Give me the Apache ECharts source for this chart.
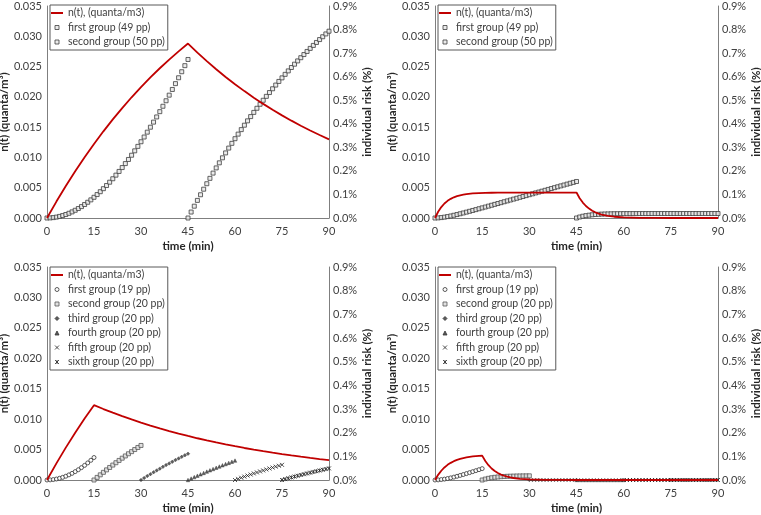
<!DOCTYPE html>
<html><head><meta charset="utf-8">
<script src="https://cdn.jsdelivr.net/npm/echarts@6/dist/echarts.min.js"></script>
<style>html,body{margin:0;padding:0;background:#fff}#c{width:761px;height:515px}</style>
</head><body><div id="c"></div>
<script>
// ---------- tick labels / names ----------
const timeTicks = [0, 15, 30, 45, 60, 75, 90];
const RED = 'n(t), (quanta/m3)';
const namesA = ['first group (49 pp)', 'second group (50 pp)'];
const namesB = ['first group (19 pp)', 'second group (20 pp)', 'third group (20 pp)', 'fourth group (20 pp)', 'fifth group (20 pp)', 'sixth group (20 pp)'];

// ---------- panel 1 (top left) ----------
const p1RedT = [0,3,6,9,12,15,18,21,24,27,30,33,36,39,42,45,48,51,54,57,60,63,66,69,72,75,78,81,84,87,90];
const p1Red = [0,0.00271,0.00528,0.00772,0.01004,0.01223,0.01431,0.01628,0.01815,0.01993,0.02161,0.02320,0.02472,0.02615,0.02751,0.02880,0.02731,0.02590,0.02456,0.02329,0.02209,0.02095,0.01986,0.01884,0.01786,0.01694,0.01607,0.01523,0.01445,0.01370,0.01299];
const p1FirstStart = 0;
const p1First = [0,0.0004,0.0017,0.0038,0.0067,0.0103,0.0148,0.0200,0.0260,0.0328,0.0402,0.0484,0.0572,0.0668,0.0770,0.0879,0.0995,0.1117,0.1245,0.1379,0.1520,0.1666,0.1819,0.1977,0.2141,0.2310,0.2485,0.2665,0.2851,0.3041,0.3237,0.3438,0.3644,0.3854,0.4070,0.4290,0.4514,0.4744,0.4977,0.5215,0.5457,0.5704,0.5954,0.6209,0.6467,0.6730];
const p1SecondStart = 45;
const p1Second = [0,0.0253,0.0502,0.0747,0.0987,0.1223,0.1455,0.1683,0.1906,0.2126,0.2342,0.2555,0.2763,0.2968,0.3169,0.3367,0.3561,0.3752,0.3940,0.4124,0.4305,0.4483,0.4658,0.4829,0.4998,0.5164,0.5326,0.5486,0.5643,0.5798,0.5949,0.6098,0.6245,0.6389,0.6530,0.6669,0.6805,0.6939,0.7071,0.7200,0.7327,0.7452,0.7575,0.7695,0.7814,0.7930];

// ---------- panel 2 (top right) ----------
const p2RedT = [0,1,2,3,4,5,6,7,8,9,10,12,14,16,18,20,25,30,35,40,45,46,47,48,49,50,51,52,53,55,57,60,65,70,75,80,90];
const p2Red = [0,0.00103,0.00180,0.00239,0.00283,0.00316,0.00342,0.00361,0.00375,0.00386,0.00395,0.00405,0.00412,0.00415,0.00417,0.00419,0.00420,0.00420,0.00420,0.00420,0.00420,0.00327,0.00255,0.00198,0.00155,0.00120,0.00094,0.00073,0.00057,0.00035,0.00021,0.00010,0.00003,0.00001,0,0,0];
const p2FirstStart = 0;
const p2First = [0,0.0005,0.0018,0.0036,0.0060,0.0086,0.0116,0.0147,0.0180,0.0214,0.0249,0.0284,0.0320,0.0356,0.0393,0.0430,0.0466,0.0504,0.0541,0.0578,0.0615,0.0652,0.0690,0.0727,0.0764,0.0802,0.0839,0.0877,0.0914,0.0951,0.0989,0.1026,0.1064,0.1101,0.1138,0.1176,0.1213,0.1251,0.1288,0.1325,0.1363,0.1400,0.1438,0.1475,0.1512,0.1550];
const p2SecondStart = 45;
const p2Second = [0,0.0042,0.0075,0.0100,0.0120,0.0136,0.0148,0.0157,0.0164,0.0170,0.0174,0.0178,0.0181,0.0183,0.0184,0.0186,0.0187,0.0187,0.0188,0.0188,0.0189,0.0189,0.0189,0.0189,0.0190,0.0190,0.0190,0.0190,0.0190,0.0190,0.0190,0.0190,0.0190,0.0190,0.0190,0.0190,0.0190,0.0190,0.0190,0.0190,0.0190,0.0190,0.0190,0.0190,0.0190,0.0190];

// ---------- panel 3 (bottom left) ----------
const p3RedT = [0,3,6,9,12,15,18,21,24,27,30,33,36,39,42,45,48,51,54,57,60,63,66,69,72,75,78,81,84,87,90];
const p3Red = [0,0.00273,0.00532,0.00777,0.01009,0.01230,0.01166,0.01106,0.01049,0.00995,0.00943,0.00895,0.00848,0.00805,0.00763,0.00724,0.00686,0.00651,0.00617,0.00585,0.00555,0.00526,0.00499,0.00473,0.00449,0.00426,0.00404,0.00383,0.00363,0.00344,0.00326];
const p3Starts = [0, 15, 30, 45, 60, 75];
const p3G1 = [0,0.0005,0.0018,0.0041,0.0072,0.0112,0.0160,0.0217,0.0281,0.0354,0.0434,0.0523,0.0618,0.0722,0.0832,0.0950];
const p3G2 = [0,0.0110,0.0218,0.0324,0.0428,0.0530,0.0631,0.0730,0.0827,0.0922,0.1016,0.1108,0.1198,0.1287,0.1374,0.1460];
const p3G3 = [0,0.0084,0.0166,0.0246,0.0325,0.0403,0.0480,0.0555,0.0629,0.0701,0.0772,0.0842,0.0911,0.0978,0.1045,0.1110];
const p3G4 = [0,0.0062,0.0122,0.0182,0.0240,0.0298,0.0354,0.0410,0.0464,0.0518,0.0570,0.0622,0.0673,0.0723,0.0772,0.0820];
const p3G5 = [0,0.0048,0.0095,0.0142,0.0188,0.0232,0.0277,0.0320,0.0362,0.0404,0.0445,0.0486,0.0525,0.0564,0.0602,0.0640];
const p3G6 = [0,0.0037,0.0073,0.0109,0.0144,0.0178,0.0212,0.0245,0.0277,0.0309,0.0341,0.0372,0.0402,0.0432,0.0461,0.0490];

// ---------- panel 4 (bottom right) ----------
const p4RedT = [0,1,2,3,4,5,6,7,8,9,10,11,12,13,14,15,16,17,18,19,20,21,22,23,24,25,27,30,35,40,45,60,90];
const p4Red = [0,0.00085,0.00152,0.00206,0.00249,0.00282,0.00309,0.00331,0.00348,0.00361,0.00372,0.00380,0.00387,0.00392,0.00397,0.00400,0.00312,0.00243,0.00189,0.00147,0.00115,0.00089,0.00070,0.00054,0.00042,0.00033,0.00020,0.00009,0.00003,0.00001,0,0,0];
const p4Starts = [0, 15, 30, 45, 60, 75];
const p4G1 = [0,0.0005,0.0018,0.0037,0.0062,0.0090,0.0122,0.0157,0.0193,0.0231,0.0271,0.0311,0.0353,0.0395,0.0437,0.0480];
const p4G2 = [0,0.0040,0.0071,0.0095,0.0114,0.0128,0.0140,0.0149,0.0156,0.0161,0.0165,0.0169,0.0171,0.0173,0.0175,0.0176];
const p4G3 = [0,0.0001,0.0002,0.0002,0.0003,0.0003,0.0003,0.0004,0.0004,0.0004,0.0004,0.0004,0.0004,0.0004,0.0004,0.0004];
const p4G4 = [0,0,0,0,0,0,0,0,0,0,0,0,0,0,0,0];
const p4G5 = [0,0,0,0,0,0,0,0,0,0,0,0,0,0,0,0];
const p4G6 = [0,0,0,0,0,0,0,0,0,0,0,0,0,0,0,0];

// ---------- build ----------
const FONT = 'Lato';
const TXT = '#404040';
const AXC = '#7f7f7f';
const REDC = '#c00000';
const pairs = (t, v) => v.map((y, i) => [t[i], y]);
const fromStart = (s, v) => v.map((y, i) => [s + i, y]);

const grids = [
  {left: 47, top: 6, width: 282, height: 212},
  {left: 435, top: 6, width: 283, height: 212},
  {left: 47, top: 267, width: 282, height: 213},
  {left: 435, top: 267, width: 283, height: 213}
];
const leftGap = [26, 30, 26, 30];
const rightGap = [27, 19, 27, 19];
const nameStyle = {fontFamily: FONT, fontWeight: 'bold', fontSize: 11.5, color: '#262626'};
const xAxes = [], yAxes = [], series = [];
grids.forEach((g, i) => {
  xAxes.push({type: 'value', gridIndex: i, min: timeTicks[0], max: timeTicks[timeTicks.length - 1], interval: 15,
    name: 'time (min)', nameLocation: 'middle', nameGap: 22, nameTextStyle: nameStyle,
    axisLine: {show: true, onZero: false, lineStyle: {color: AXC, width: 1}},
    axisTick: {show: false}, splitLine: {show: false},
    axisLabel: {fontFamily: FONT, fontSize: 11, color: TXT, margin: 8}});
  yAxes.push({type: 'value', gridIndex: i, position: 'left', min: 0, max: 0.035, interval: 0.005,
    name: 'n(t) (quanta/m³)', nameLocation: 'middle', nameGap: leftGap[i], nameTextStyle: nameStyle,
    axisLine: {show: true, onZero: false, lineStyle: {color: AXC, width: 1}},
    axisTick: {show: false}, splitLine: {show: false},
    axisLabel: {fontFamily: FONT, fontSize: 11, color: TXT, margin: 5, formatter: v => v.toFixed(3)}});
  yAxes.push({type: 'value', gridIndex: i, position: 'right', min: 0, max: 0.9, interval: 0.1,
    name: 'individual risk (%)', nameLocation: 'middle', nameGap: rightGap[i], nameTextStyle: nameStyle,
    axisLine: {show: true, onZero: false, lineStyle: {color: AXC, width: 1}},
    axisTick: {show: false}, splitLine: {show: false},
    axisLabel: {fontFamily: FONT, fontSize: 11, color: TXT, margin: 4, formatter: v => v.toFixed(1) + '%'}});
});

function redSeries(i, t, v) {
  return {type: 'line', name: RED, xAxisIndex: i, yAxisIndex: 2 * i, data: pairs(t, v),
    symbol: 'none', showSymbol: false, lineStyle: {color: REDC, width: 1.8}, itemStyle: {color: REDC}, z: 3};
}
const X_PATH = 'path://M0,0L8,8M8,0L0,8';
const STAR_PATH = 'path://M0,0L8,8M8,0L0,8M4,0L4,8';
const SQ_ICON = 'path://M0,0h8v8h-8z';
const DIA_ICON = 'path://M4,0L8,4L4,8L0,4z';
const TRI_ICON = 'path://M4,0L8,8L0,8z';
const LINE_ICON = 'path://M0,0h12v2h-12z';

const styleA = {symbol: 'rect', itemStyle: {color: '#e6e6e6', borderColor: '#3f3f3f', borderWidth: 1}};
const stylesB = [
  {symbol: 'circle', icon: 'circle', size: 4, itemStyle: {color: '#ffffff', borderColor: '#333333', borderWidth: 1}},
  {symbol: 'rect', icon: SQ_ICON, size: 4, itemStyle: {color: '#d9d9d9', borderColor: '#595959', borderWidth: 1}},
  {symbol: 'diamond', icon: DIA_ICON, size: 3.5, itemStyle: {color: '#333333', borderColor: '#333333', borderWidth: 0.5}},
  {symbol: 'triangle', icon: TRI_ICON, size: 3.5, itemStyle: {color: '#333333', borderColor: '#333333', borderWidth: 0.5}},
  {symbol: X_PATH, icon: X_PATH, size: 4, itemStyle: {color: 'none', borderColor: '#262626', borderWidth: 1}},
  {symbol: STAR_PATH, icon: STAR_PATH, size: 4, itemStyle: {color: 'none', borderColor: '#262626', borderWidth: 1}}
];
function scat(i, name, data, st, size) {
  return {type: 'scatter', name, xAxisIndex: i, yAxisIndex: 2 * i + 1, data,
    symbol: st.symbol, symbolSize: size, itemStyle: st.itemStyle, z: 2};
}

series.push(redSeries(0, p1RedT, p1Red));
series.push(scat(0, namesA[0], fromStart(p1FirstStart, p1First), styleA, 4));
series.push(scat(0, namesA[1], fromStart(p1SecondStart, p1Second), styleA, 4));
series.push(redSeries(1, p2RedT, p2Red));
series.push(scat(1, namesA[0], fromStart(p2FirstStart, p2First), styleA, 4));
series.push(scat(1, namesA[1], fromStart(p2SecondStart, p2Second), styleA, 4));
series.push(redSeries(2, p3RedT, p3Red));
[p3G1, p3G2, p3G3, p3G4, p3G5, p3G6].forEach((g, k) => series.push(scat(2, namesB[k], fromStart(p3Starts[k], g), stylesB[k], stylesB[k].size)));
series.push(redSeries(3, p4RedT, p4Red));
[p4G1, p4G2, p4G3, p4G4, p4G5, p4G6].forEach((g, k) => series.push(scat(3, namesB[k], fromStart(p4Starts[k], g), stylesB[k], stylesB[k].size)));

const legendDataA = [{name: RED, icon: LINE_ICON, itemStyle: {borderWidth: 0}}]
  .concat(namesA.map(n => ({name: n, icon: SQ_ICON})));
const legendDataB = [{name: RED, icon: LINE_ICON, itemStyle: {borderWidth: 0}}]
  .concat(namesB.map((n, k) => ({name: n, icon: stylesB[k].icon})));
function legend(left, top, data) {
  return {left, top, orient: 'vertical', data, padding: [1, 3, 1, 1], itemGap: 0.5,
    itemWidth: 12, itemHeight: 4, itemTextGap: 2, symbolKeepAspect: true,
    borderColor: '#595959', borderWidth: 1, backgroundColor: '#ffffff', selectedMode: false,
    itemStyle: {borderWidth: 1},
    textStyle: {fontFamily: FONT, fontSize: 10.5, color: TXT, lineHeight: 14}};
}

const chart = echarts.init(document.getElementById('c'), null, {renderer: 'canvas'});
chart.setOption({
  animation: false,
  backgroundColor: '#ffffff',
  grid: grids.map(g => Object.assign({containLabel: false, outerBoundsMode: 'none'}, g)),
  xAxis: xAxes,
  yAxis: yAxes,
  legend: [legend(50, 5, legendDataA), legend(438, 5, legendDataA), legend(50, 267, legendDataB), legend(438, 267, legendDataB)],
  series
});
</script></body></html>
